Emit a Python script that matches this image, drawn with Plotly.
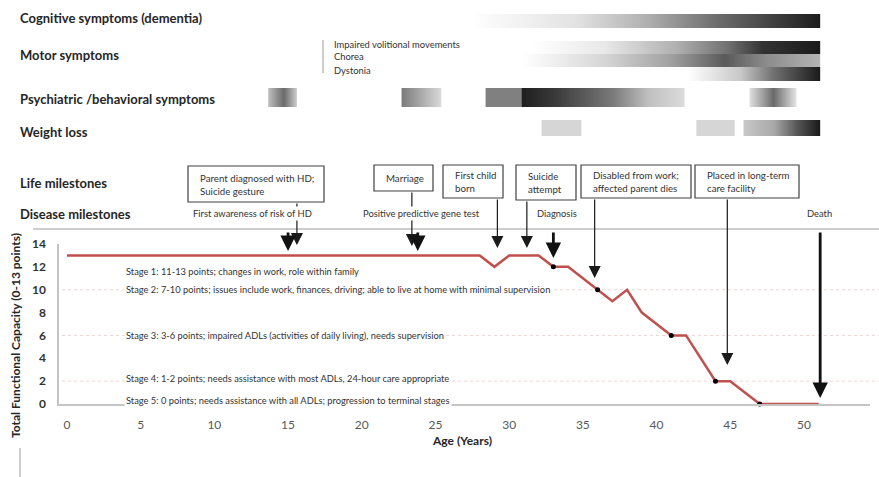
import plotly.graph_objects as go

W, H = 879, 477
FONT = "Lato"

# ---------------- data ----------------
AGE = [0, 28, 29, 30, 32, 33, 34, 36, 37, 38, 39, 41, 42, 44, 45, 47, 51]
TFC = [13, 13, 12, 13, 13, 12, 12, 10, 9, 10, 8, 6, 6, 2, 2, 0, 0]
DOT_AGE = [33, 36, 41, 44, 47]
DOT_TFC = [12, 10, 6, 2, 0]

X_TICKS = [0, 5, 10, 15, 20, 25, 30, 35, 40, 45, 50]
Y_TICKS = [0, 2, 4, 6, 8, 10, 12, 14]

ROW_LABELS = ["Cognitive symptoms (dementia)", "Motor symptoms",
              "Psychiatric /behavioral symptoms", "Weight loss",
              "Life milestones", "Disease milestones"]
MOTOR_SUBTYPES = ["Impaired volitional movements", "Chorea", "Dystonia"]

BAR_ROW = ["cog", "motor1", "motor2", "motor3",
           "psych", "psych", "psych", "psych",
           "weight", "weight", "weight"]
BAR_START = [27.5, 31.6, 30.9, 42.1, 13.65, 22.7, 28.4, 46.3, 32.2, 42.7, 45.9]
BAR_END = [51.1, 51.1, 51.1, 51.1, 15.6, 25.4, 41.9, 49.5, 34.9, 45.3, 51.1]
BAR_GRADIENT = [
    [[0, "#ffffff"], [0.3, "#e2e2e2"], [0.5, "#b0b0b0"], [0.7, "#6e6e6e"], [0.88, "#3c3c3c"], [1, "#1c1c1c"]],
    [[0, "#ffffff"], [0.25, "#e8e8e8"], [0.5, "#b0b0b0"], [0.68, "#707070"], [0.8, "#333333"], [1, "#1a1a1a"]],
    [[0, "#ffffff"], [0.28, "#d5d5d5"], [0.5, "#a0a0a0"], [0.68, "#5a5a5a"], [0.82, "#8c8c8c"], [1, "#b4b4b4"]],
    [[0, "#ffffff"], [0.4, "#c8c8c8"], [0.65, "#707070"], [1, "#1a1a1a"]],
    [[0, "#c0c0c0"], [0.55, "#6a6a6a"], [1, "#cdcdcd"]],
    [[0, "#7a7a7a"], [1, "#dadada"]],
    [[0, "#808080"], [0.18, "#808080"], [0.182, "#1e1e1e"], [0.35, "#3a3a3a"], [0.64, "#7a7a7a"], [0.82, "#c0c0c0"], [1, "#dcdcdc"]],
    [[0, "#e2e2e2"], [0.51, "#6a6a6a"], [1, "#e5e5e5"]],
    [[0, "#d6d6d6"], [1, "#d6d6d6"]],
    [[0, "#d6d6d6"], [1, "#d6d6d6"]],
    [[0, "#c8c8c8"], [0.4, "#a8a8a8"], [0.7, "#555555"], [1, "#1a1a1a"]],
]

LIFE_EVENTS = ["Parent diagnosed with HD;<br>Suicide gesture", "Marriage",
               "First child<br>born", "Suicide<br>attempt",
               "Disabled from work;<br>affected parent dies",
               "Placed in long-term<br>care facility"]
LIFE_AGE = [15.6, 23.4, 29.2, 31.2, 35.8, 44.8]

DISEASE_EVENTS = ["First awareness of risk of HD", "Positive predictive gene test",
                  "Diagnosis", "Death"]
DISEASE_AGE = [15.0, 23.8, 33.0, 51.1]

STAGES = ["Stage 1: 11-13 points; changes in work, role within family",
          "Stage 2: 7-10 points; issues include work, finances, driving; able to live at home with minimal supervision",
          "Stage 3: 3-6 points; impaired ADLs (activities of daily living), needs supervision",
          "Stage 4: 1-2 points; needs assistance with most ADLs, 24-hour care appropriate",
          "Stage 5: 0 points; needs assistance with all ADLs; progression to terminal stages"]
STAGE_LEVEL = [11.6, 10, 6, 2.2, 0.35]
STAGE_GRID = [10, 6, 2]

# ---------------- layout helpers (pixel positions) ----------------
def px(x):
    return x / W

def py(y):
    return 1 - y / H

ROW_BAND = {"cog": (14, 28), "motor1": (41, 54), "motor2": (54, 67), "motor3": (67, 81),
            "psych": (88, 107), "weight": (120, 136)}
ROW_LABEL_Y = [18, 55, 99, 132, 183, 214]
MOTOR_SUB_Y = [45, 57, 70]
LIFE_BOX = [(188, 324, 166, 202), (374, 433, 165, 191), (443, 503, 165, 198),
            (516, 576, 165, 200), (581, 691, 165, 198), (695, 799, 165, 198)]
LIFE_TIP = [245, 246, 248, 248, 278, 365]
DISEASE_TEXT_X = [252, 421, 557, 819]
DISEASE_TIP = [251, 251, 258, 398]

fig = go.Figure()

# symptom gradient bars
for row, s, e, grad in zip(BAR_ROW, BAR_START, BAR_END, BAR_GRADIENT):
    y0, y1 = ROW_BAND[row]
    fig.add_trace(go.Scatter(
        x=[s, e, e, s, s], y=[y0, y0, y1, y1, y0], xaxis="x", yaxis="y2",
        mode="lines", line=dict(width=0), fill="toself",
        fillgradient=dict(type="horizontal", colorscale=grad),
        hoverinfo="skip", showlegend=False))

# TFC line
fig.add_trace(go.Scatter(x=AGE, y=TFC, mode="lines",
                         line=dict(color="#c0504d", width=2.5),
                         showlegend=False, hoverinfo="skip", cliponaxis=False))
fig.add_trace(go.Scatter(x=DOT_AGE, y=DOT_TFC, mode="markers",
                         marker=dict(color="black", size=5),
                         showlegend=False, hoverinfo="skip", cliponaxis=False))

shapes = []
# separator line
shapes.append(dict(type="line", xref="paper", yref="paper", x0=px(33), x1=1,
                   y0=py(229), y1=py(229), line=dict(color="#bdbdbd", width=1.5)))
# dotted stage gridlines
for lv in STAGE_GRID:
    shapes.append(dict(type="line", xref="paper", yref="y", x0=px(62), x1=1,
                       y0=lv, y1=lv, line=dict(color="rgba(220,160,160,0.45)", width=1, dash="dot"),
                       layer="below"))
# motor bracket
shapes.append(dict(type="line", xref="paper", yref="paper", x0=px(323), x1=px(323),
                   y0=py(40), y1=py(73), line=dict(color="#9a9a9a", width=1)))
# bottom-left small line
shapes.append(dict(type="line", xref="paper", yref="paper", x0=px(20), x1=px(20),
                   y0=py(448), y1=0, line=dict(color="#9a9a9a", width=1)))
# life milestone boxes
for (x0, x1, y0, y1) in LIFE_BOX:
    shapes.append(dict(type="rect", xref="paper", yref="paper", x0=px(x0), x1=px(x1),
                       y0=py(y1), y1=py(y0), line=dict(color="#404040", width=1.2),
                       fillcolor="white"))

ann = []
# row labels
for lab, yy in zip(ROW_LABELS, ROW_LABEL_Y):
    ann.append(dict(text="<b>" + lab + "</b>", xref="paper", yref="paper", x=px(18), y=py(yy),
                    xanchor="left", yanchor="middle", showarrow=False,
                    font=dict(family=FONT, size=13, color="#262626")))
for lab, yy in zip(MOTOR_SUBTYPES, MOTOR_SUB_Y):
    ann.append(dict(text=lab, xref="paper", yref="paper", x=px(332), y=py(yy),
                    xanchor="left", yanchor="middle", showarrow=False,
                    font=dict(family=FONT, size=9.4, color="#333333")))

# life milestone arrows (thin)
for age, box, tip in zip(LIFE_AGE, LIFE_BOX, LIFE_TIP):
    ann.append(dict(x=age, y=tip, xref="x", yref="y2", ax=age, ay=box[3], axref="x", ayref="y2",
                    text="", showarrow=True, arrowhead=2, arrowsize=2.0, arrowwidth=1.2,
                    arrowcolor="#1a1a1a"))
# disease milestone arrows (thick)
for age, tip in zip(DISEASE_AGE, DISEASE_TIP):
    ann.append(dict(x=age, y=tip, xref="x", yref="y2", ax=age, ay=231, axref="x", ayref="y2",
                    text="", showarrow=True, arrowhead=2, arrowsize=1.1, arrowwidth=2.8,
                    arrowcolor="#111111"))
# life milestone texts
for lab, box in zip(LIFE_EVENTS, LIFE_BOX):
    ann.append(dict(text=lab, xref="paper", yref="paper", x=px(box[0] + 10),
                    y=py((box[2] + box[3]) / 2), xanchor="left", yanchor="middle",
                    align="left", showarrow=False,
                    font=dict(family=FONT, size=9.7, color="#333333")))
# disease milestone texts
for lab, xx in zip(DISEASE_EVENTS, DISEASE_TEXT_X):
    ann.append(dict(text=lab, xref="paper", yref="paper", x=px(xx), y=py(213),
                    xanchor="center", yanchor="middle", showarrow=False, bgcolor="white",
                    font=dict(family=FONT, size=9.4, color="#333333")))
# stage texts
for lab, lv in zip(STAGES, STAGE_LEVEL):
    ann.append(dict(text=lab, xref="x", yref="y", x=3.9, y=lv, xanchor="left", yanchor="middle",
                    showarrow=False, bgcolor="white", borderpad=1,
                    font=dict(family=FONT, size=9.3, color="#333333")))
# axis titles
ann.append(dict(text="<b>Age (Years)</b>", xref="paper", yref="paper", x=px(462), y=py(440),
                xanchor="center", yanchor="middle", showarrow=False,
                font=dict(family=FONT, size=12, color="#262626")))
ann.append(dict(text="<b>Total Functional Capacity (0-13 points)</b>", xref="paper", yref="paper",
                x=px(15), y=py(336), xanchor="center", yanchor="middle", textangle=-90,
                showarrow=False, font=dict(family=FONT, size=12, color="#262626")))

fig.update_layout(
    width=W, height=H, autosize=False, margin=dict(l=0, r=0, t=0, b=0, pad=0),
    paper_bgcolor="white", plot_bgcolor="rgba(0,0,0,0)", showlegend=False,
    font=dict(family=FONT),
    xaxis=dict(domain=[px(59), px(870)], range=[-0.54, 54.48], tickvals=X_TICKS,
               showline=True, linecolor="#c4c4c4", linewidth=1.5, showgrid=False, zeroline=False,
               ticks="outside", ticklen=9, tickcolor="rgba(0,0,0,0)", automargin=False,
               tickfont=dict(family=FONT, size=12, color="#595959")),
    yaxis=dict(domain=[1 - 404 / H, 1 - 244 / H], range=[0, 14], tickvals=Y_TICKS,
               showline=True, linecolor="#c4c4c4", linewidth=1.5, showgrid=False, zeroline=False,
               ticks="outside", ticklen=9, tickcolor="rgba(0,0,0,0)", automargin=False,
               tickfont=dict(family=FONT, size=12, color="#333333", weight="bold")),
    yaxis2=dict(domain=[0, 1], range=[H, 0], anchor="x", visible=False, fixedrange=True),
    shapes=shapes, annotations=ann,
)

fig.write_html("out.html", config={"responsive": False, "displayModeBar": False},
               post_script="document.body.style.margin='0px';document.body.style.padding='0px';")
